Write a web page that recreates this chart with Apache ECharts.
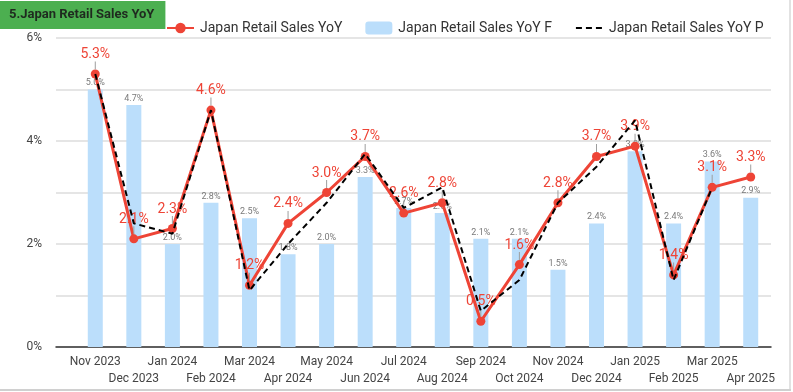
<!DOCTYPE html>
<html>
<head>
<meta charset="utf-8">
<script src="https://cdn.jsdelivr.net/npm/echarts@6/dist/echarts.min.js"></script>
<style>
  html, body { margin: 0; padding: 0; background: #fff; }
  #wrap { position: relative; width: 793px; height: 392px; overflow: hidden; }
  #chart { position: absolute; left: 0; top: 0; width: 793px; height: 392px; }
  #edgeR { position: absolute; left: 789px; top: 0; width: 2px; height: 391px; background: #e2e2e2; }
  #edgeB { position: absolute; left: 0; top: 389px; width: 791px; height: 2px; background: #d0d0d0; }
</style>
</head>
<body>
<div id="wrap"><div id="chart"></div><div id="edgeR"></div><div id="edgeB"></div></div>
<script>
const titleText = '5.Japan Retail Sales YoY';
const categories = ['Nov 2023','Dec 2023','Jan 2024','Feb 2024','Mar 2024','Apr 2024','May 2024','Jun 2024','Jul 2024','Aug 2024','Sep 2024','Oct 2024','Nov 2024','Dec 2024','Jan 2025','Feb 2025','Mar 2025','Apr 2025'];
const actualName = 'Japan Retail Sales YoY';
const forecastName = 'Japan Retail Sales YoY F';
const previousName = 'Japan Retail Sales YoY P';
const actualValues = [5.3, 2.1, 2.3, 4.6, 1.2, 2.4, 3.0, 3.7, 2.6, 2.8, 0.5, 1.6, 2.8, 3.7, 3.9, 1.4, 3.1, 3.3];
const forecastValues = [5.0, 4.7, 2.0, 2.8, 2.5, 1.8, 2.0, 3.3, 2.7, 2.6, 2.1, 2.1, 1.5, 2.4, 3.8, 2.4, 3.6, 2.9];
const previousValues = [5.3, 2.4, 2.2, 4.6, 1.1, 2.0, 2.8, 3.75, 2.7, 3.1, 0.7, 1.3, 2.8, 3.5, 4.4, 1.3, 3.1, null];
const yTicks = [0, 2, 4, 6];

const RED = '#ee4436';
const chart = echarts.init(document.getElementById('chart'));
const FONT = 'Roboto, "Noto Sans", sans-serif';

chart.setOption({
  animation: false,
  textStyle: { fontFamily: FONT },
  title: {
    text: titleText,
    left: 0, top: 1,
    backgroundColor: '#4caf50',
    padding: [7, 11, 7, 9],
    textStyle: { fontSize: 13, fontWeight: 'bold', color: '#1f2a1f', fontFamily: FONT, lineHeight: 14 }
  },
  legend: {
    left: 161, top: 16,
    itemWidth: 27, itemHeight: 13, itemGap: 23,
    textStyle: { fontSize: 14, color: '#333', fontFamily: FONT, padding: [0, 0, 0, 1] },
    data: [actualName, forecastName, { name: previousName, itemStyle: { opacity: 0 } }]
  },
  grid: [
    { left: 56, right: 22, top: 38, bottom: 45 },
    { left: 76, right: 23, top: 38, bottom: 45 }
  ],
  xAxis: [
    {
      gridIndex: 0, type: 'category', data: categories,
      axisLine: { show: true, lineStyle: { color: '#333', width: 1.5 } },
      axisTick: { show: false }, axisLabel: { show: false }, splitLine: { show: false }
    },
    {
      gridIndex: 1, type: 'category', data: categories,
      axisLine: { show: false }, axisTick: { show: false },
      axisLabel: {
        interval: 0, margin: 6, fontSize: 12, color: '#444', lineHeight: 17,
        fontFamily: FONT,
        formatter: (v, i) => (i % 2 ? '\n' + v : v)
      }
    }
  ],
  yAxis: [
    {
      gridIndex: 0, type: 'value', min: 0, max: 6, interval: 1,
      axisLine: { show: false }, axisTick: { show: false },
      axisLabel: {
        margin: 14, fontSize: 12, color: '#444', fontFamily: FONT,
        formatter: v => (yTicks.indexOf(v) >= 0 ? v + '%' : '')
      },
      splitLine: { lineStyle: { color: '#dcdcdc', width: 1.5 } }
    },
    {
      gridIndex: 1, type: 'value', min: 0, max: 6, interval: 1,
      show: false, splitLine: { show: false }
    }
  ],
  series: [
    {
      name: forecastName, type: 'bar', xAxisIndex: 1, yAxisIndex: 1,
      data: forecastValues, barWidth: 15,
      itemStyle: { color: '#bbdefb' },
      label: {
        show: true, position: 'top', distance: 2,
        fontSize: 9, color: '#7a7a7a', fontFamily: FONT,
        formatter: p => p.value.toFixed(1) + '%'
      },
      z: 1
    },
    {
      name: actualName, type: 'line', xAxisIndex: 1, yAxisIndex: 1,
      data: actualValues,
      symbol: 'circle', symbolSize: 9,
      lineStyle: { color: RED, width: 3 },
      itemStyle: { color: RED },
      label: {
        show: true, position: 'top', distance: 0,
        formatter: p => '{v|' + p.value.toFixed(1) + '%}\n{s| }',
        rich: {
          v: { fontSize: 14, color: RED, lineHeight: 14, fontFamily: FONT, align: 'center' },
          s: { width: 1, height: 8, lineHeight: 8, backgroundColor: '#9e9e9e', fontSize: 1, align: 'center' }
        }
      },
      z: 3
    },
    {
      name: previousName, type: 'line', xAxisIndex: 1, yAxisIndex: 1,
      data: previousValues,
      symbol: 'none',
      lineStyle: { color: '#000', width: 2, type: [6, 4] },
      itemStyle: { color: '#000' },
      z: 4
    }
  ]
});
</script>
</body>
</html>
